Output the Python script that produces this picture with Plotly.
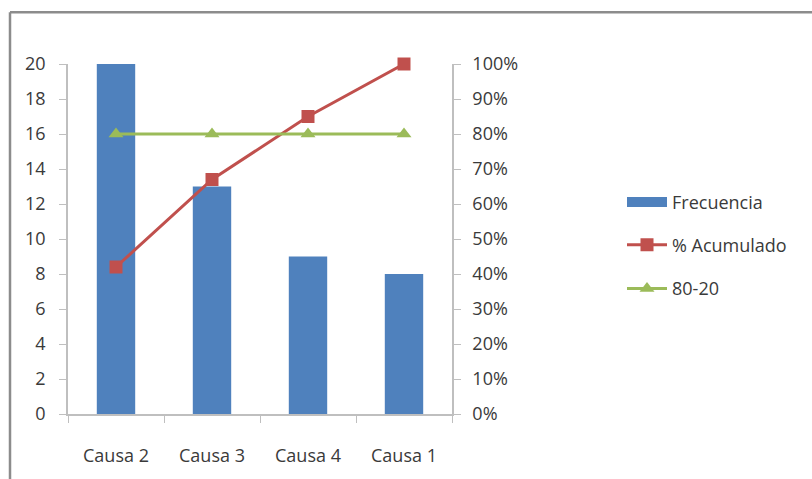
import plotly.graph_objects as go

categories = ["Causa 2", "Causa 3", "Causa 4", "Causa 1"]
frecuencia = [20, 13, 9, 8]
acumulado = [42, 67, 85, 100]
regla_80_20 = [80, 80, 80, 80]

FONT = "Open Sans, Lato, sans-serif"
TXT = "#3a3a3a"
AXC = "#bfbfbf"
FS = 18
BLUE = "#4f81bd"

fig = go.Figure()
fig.add_trace(go.Bar(x=categories, y=frecuencia, name="Frecuencia",
                     marker=dict(color=BLUE, line=dict(width=0)),
                     width=0.4, showlegend=False))
# legend entry for the bars drawn as a wide rectangle, as in the original
fig.add_trace(go.Scatter(x=[None], y=[None], name="Frecuencia", mode="lines",
                         line=dict(color=BLUE, width=10),
                         legend="legend", showlegend=True, hoverinfo="skip"))
fig.add_trace(go.Scatter(x=categories, y=acumulado, name="% Acumulado", yaxis="y2",
                         mode="lines+markers", cliponaxis=False,
                         line=dict(color="#c0504d", width=3),
                         marker=dict(symbol="square", size=13, color="#c0504d"),
                         legend="legend2", showlegend=True))
fig.add_trace(go.Scatter(x=categories, y=regla_80_20, name="80-20", yaxis="y2",
                         mode="lines+markers", cliponaxis=False,
                         line=dict(color="#9bbb59", width=3),
                         marker=dict(symbol="triangle-up", size=13, color="#9bbb59"),
                         legend="legend3", showlegend=True))

W, H = 812, 479
L, R, T, B = 68, 452, 64, 416
pw, ph = R - L, B - T
def px(x): return (x - L) / pw
def py(y): return (B - y) / ph

legend_common = dict(font=dict(family=FONT, size=FS, color=TXT), bgcolor="rgba(0,0,0,0)",
                     xanchor="left", yanchor="middle", itemwidth=40)

fig.update_layout(
    width=W, height=H,
    showlegend=True,
    margin=dict(l=L, r=W - R, t=T, b=H - B, pad=0),
    paper_bgcolor="white", plot_bgcolor="white",
    font=dict(family=FONT, size=FS, color=TXT),
    bargap=0.6,
    xaxis=dict(showline=True, linecolor=AXC, linewidth=1.5, ticks="outside", tickson="boundaries",
               ticklen=7, tickcolor=AXC, showgrid=False, ticklabelstandoff=25,
               tickfont=dict(family=FONT, size=FS, color=TXT)),
    yaxis=dict(range=[0, 20], dtick=2, showline=True, linecolor=AXC, linewidth=1.5,
               ticks="outside", ticklen=7, tickcolor=AXC, showgrid=False, zeroline=False,
               ticklabelstandoff=10, tickfont=dict(family=FONT, size=FS, color=TXT)),
    yaxis2=dict(range=[0, 100], dtick=10, overlaying="y", side="right", ticksuffix="%",
                showline=True, linecolor=AXC, linewidth=1.5, ticks="outside", ticklen=7,
                tickcolor=AXC, showgrid=False, zeroline=False, ticklabelstandoff=8,
                tickfont=dict(family=FONT, size=FS, color=TXT)),
    legend=dict(x=px(622), y=py(203), **legend_common),
    legend2=dict(x=px(622), y=py(246), **legend_common),
    legend3=dict(x=px(622), y=py(290), **legend_common),
    shapes=[
        dict(type="line", xref="paper", yref="paper", x0=px(10), x1=px(W + 5), y0=py(12), y1=py(12),
             line=dict(color="#8c8c8c", width=2.5)),
        dict(type="line", xref="paper", yref="paper", x0=px(10), x1=px(10), y0=py(12), y1=py(H + 5),
             line=dict(color="#8c8c8c", width=2.5)),
    ],
)

fig.write_html("out.html")
